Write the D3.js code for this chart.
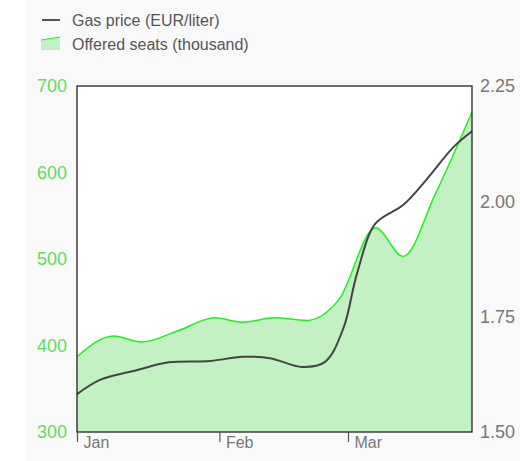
<!doctype html>
<html>
<head>
    <script src="https://d3js.org/d3.v7.min.js"></script>
    <style>
      body { margin: 0; background: #fff; }
      text { font-family: "Liberation Sans", Arial, sans-serif; }
    </style>
</head>
<body>
    <svg id="chart" width="520" height="461"></svg>
    <script>
        // Offered seats (thousand)
        const seatDates = ["2022-01-01", "2022-01-09", "2022-01-15", "2022-01-23", "2022-01-31",
          "2022-02-06", "2022-02-13", "2022-02-20", "2022-02-27", "2022-03-07",
          "2022-03-13", "2022-03-20", "2022-03-28"];
        const seatValues = [387, 411, 404, 417, 432, 427, 432, 429, 453, 536, 503, 575, 670];

        // Gas price (EUR/liter)
        const gasDates = ["2022-01-01", "2022-01-06", "2022-01-14", "2022-01-21", "2022-01-30",
          "2022-02-06", "2022-02-12", "2022-02-19", "2022-02-24", "2022-02-28",
          "2022-03-03", "2022-03-07", "2022-03-13", "2022-03-18",
          "2022-03-24", "2022-03-28"];
        const gasValues = [1.582, 1.613, 1.634, 1.651, 1.654, 1.663, 1.660, 1.641, 1.652, 1.725,
          1.845, 1.952, 1.992, 2.046, 2.118, 2.152];

        const seatTicks = [300, 400, 500, 600, 700];
        const gasTicks = [1.50, 1.75, 2.00, 2.25];
        const monthTicks = ["2022-01-01", "2022-02-01", "2022-03-01"];

        const parse = d3.timeParse("%Y-%m-%d");
        const seats = seatDates.map((d, i) => ({ date: parse(d), value: seatValues[i] }));
        const gas = gasDates.map((d, i) => ({ date: parse(d), value: gasValues[i] }));

        const plot = { left: 77, right: 472, top: 86, bottom: 432 };

        const svg = d3.select("#chart");

        // page background
        svg.append("rect")
          .attr("x", 26).attr("y", 0)
          .attr("width", 494).attr("height", 461)
          .attr("fill", "#f9f9f9");

        // Scales
        const x = d3.scaleTime()
          .domain([parse("2022-01-01"), parse("2022-03-28")])
          .range([plot.left, plot.right]);
        const yLeft = d3.scaleLinear().domain([300, 700]).range([plot.bottom, plot.top]);
        const yRight = d3.scaleLinear().domain([1.5, 2.25]).range([plot.bottom, plot.top]);

        // Plot background
        svg.append("rect")
          .attr("x", plot.left).attr("y", plot.top)
          .attr("width", plot.right - plot.left)
          .attr("height", plot.bottom - plot.top)
          .attr("fill", "#fff");

        svg.append("clipPath").attr("id", "clip")
          .append("rect")
          .attr("x", plot.left).attr("y", plot.top)
          .attr("width", plot.right - plot.left)
          .attr("height", plot.bottom - plot.top);

        const g = svg.append("g").attr("clip-path", "url(#clip)");

        const area = d3.area()
          .x(d => x(d.date))
          .y0(yLeft(300))
          .y1(d => yLeft(d.value))
          .curve(d3.curveMonotoneX);

        const seatLine = d3.line()
          .x(d => x(d.date))
          .y(d => yLeft(d.value))
          .curve(d3.curveMonotoneX);

        const gasLine = d3.line()
          .x(d => x(d.date))
          .y(d => yRight(d.value))
          .curve(d3.curveCatmullRom.alpha(0.5));

        g.append("path").datum(seats)
          .attr("fill", "#c3f1c3")
          .attr("d", area);

        g.append("path").datum(seats)
          .attr("fill", "none")
          .attr("stroke", "#22ee22")
          .attr("stroke-width", 1.5)
          .attr("d", seatLine);

        g.append("path").datum(gas)
          .attr("fill", "none")
          .attr("stroke", "#444")
          .attr("stroke-width", 2)
          .attr("d", gasLine);

        // Frame
        svg.append("rect")
          .attr("x", plot.left).attr("y", plot.top)
          .attr("width", plot.right - plot.left)
          .attr("height", plot.bottom - plot.top)
          .attr("fill", "none")
          .attr("stroke", "#111")
          .attr("stroke-width", 1.2);

        // Left axis (seats)
        const leftAxis = svg.append("g")
          .attr("transform", `translate(${plot.left},0)`)
          .call(d3.axisLeft(yLeft).tickValues(seatTicks).tickSize(0).tickPadding(10));
        leftAxis.select(".domain").remove();
        leftAxis.selectAll("text")
          .attr("font-size", 18)
          .attr("font-family", "Liberation Sans, Arial, sans-serif")
          .attr("fill", "#5ddd5d");

        // Right axis (gas)
        const rightAxis = svg.append("g")
          .attr("transform", `translate(${plot.right},0)`)
          .call(d3.axisRight(yRight).tickValues(gasTicks).tickSize(0).tickPadding(8)
            .tickFormat(d3.format(".2f")));
        rightAxis.select(".domain").remove();
        rightAxis.selectAll("text")
          .attr("font-size", 18)
          .attr("font-family", "Liberation Sans, Arial, sans-serif")
          .attr("fill", "#777");

        // Bottom axis (months)
        const bottomAxis = svg.append("g")
          .attr("transform", `translate(0,${plot.bottom})`)
          .call(d3.axisBottom(x).tickValues(monthTicks.map(parse)).tickSize(10)
            .tickFormat(d3.timeFormat("%b")));
        bottomAxis.select(".domain").remove();
        bottomAxis.selectAll("line").attr("stroke", "#555").attr("stroke-width", 1.2);
        bottomAxis.selectAll("text")
          .attr("text-anchor", "start")
          .attr("x", 6).attr("y", 5).attr("dy", "0.71em")
          .attr("font-size", 16)
          .attr("font-family", "Liberation Sans, Arial, sans-serif")
          .attr("fill", "#777");

        // Legend
        const legend = svg.append("g");
        legend.append("line")
          .attr("x1", 42).attr("x2", 60).attr("y1", 20).attr("y2", 20)
          .attr("stroke", "#555").attr("stroke-width", 2);
        legend.append("text")
          .attr("x", 72).attr("y", 26)
          .attr("font-size", 16).attr("fill", "#555")
          .text("Gas price (EUR/liter)");
        legend.append("path")
          .attr("d", "M41,40 L60,37 L60,50 L41,50 Z")
          .attr("fill", "#c3f1c3");
        legend.append("line")
          .attr("x1", 41).attr("y1", 40).attr("x2", 60).attr("y2", 37)
          .attr("stroke", "#22ee22").attr("stroke-width", 1);
        legend.append("text")
          .attr("x", 72).attr("y", 50)
          .attr("font-size", 16).attr("fill", "#555")
          .text("Offered seats (thousand)");
    </script>
</body>
</html>
